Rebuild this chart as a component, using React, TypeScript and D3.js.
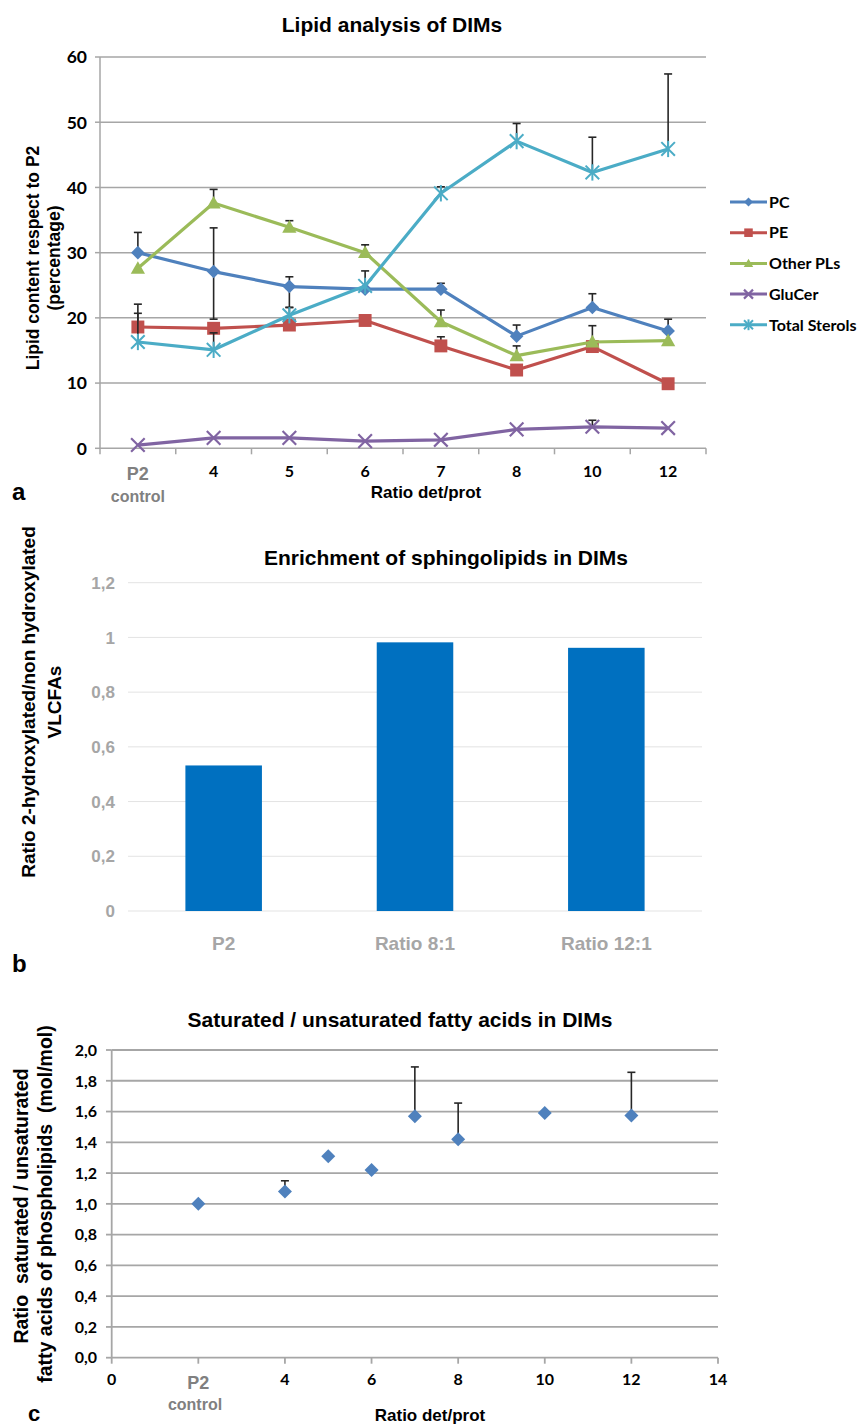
import React from "react";
import * as d3 from "d3";

// ---------- Panel a data ----------
const categoriesA = ["P2", "4", "5", "6", "7", "8", "10", "12"];
const seriesNames = ["PC", "PE", "Other PLs", "GluCer", "Total Sterols"];
const pcValues = [30.0, 27.1, 24.8, 24.4, 24.4, 17.2, 21.6, 18.0];
const peValues = [18.6, 18.4, 18.9, 19.6, 15.7, 12.0, 15.6, 9.9];
const otherPlValues = [27.6, 37.6, 33.9, 30.0, 19.4, 14.2, 16.3, 16.5];
const gluCerValues = [0.5, 1.6, 1.6, 1.1, 1.3, 2.9, 3.3, 3.1];
const sterolValues = [16.3, 15.1, 20.4, 24.9, 39.1, 47.1, 42.3, 45.9];
const pcErrUp = [3.1, 6.7, 1.5, 2.8, 0.9, 1.7, 2.1, 1.8];
const pcErrDown = [0, 7.3, 3.2, 0, 0, 0, 0, 0];
const peErrUp = [3.5, 0, 0, 0, 1.4, 0, 0, 0];
const otherPlErrUp = [0, 2.1, 1.0, 1.2, 1.8, 1.5, 2.5, 0];
const gluCerErrUp = [0, 0, 0, 0, 0, 0, 1.0, 0];
const sterolErrUp = [4.4, 2.6, 1.2, 0, 1.0, 2.7, 5.4, 11.5];
const yTicksA = [0, 10, 20, 30, 40, 50, 60];

// ---------- Panel b data ----------
const categoriesB = ["P2", "Ratio 8:1", "Ratio 12:1"];
const barValues = [0.532, 0.982, 0.962];
const yTicksB = [0, 0.2, 0.4, 0.6, 0.8, 1.0, 1.2];
const yTickLabelsB = ["0", "0,2", "0,4", "0,6", "0,8", "1", "1,2"];

// ---------- Panel c data ----------
const ratioX = [2, 4, 5, 6, 7, 8, 10, 12];
const satRatio = [1.0, 1.08, 1.31, 1.22, 1.57, 1.42, 1.59, 1.575];
const satErrUp = [0, 0.07, 0, 0, 0.32, 0.235, 0, 0.28];
const xTicksC = [0, 2, 4, 6, 8, 10, 12, 14];
const xTickLabelsC = ["0", "P2", "4", "6", "8", "10", "12", "14"];
const yTicksC = [0, 0.2, 0.4, 0.6, 0.8, 1.0, 1.2, 1.4, 1.6, 1.8, 2.0];
const yTickLabelsC = ["0,0", "0,2", "0,4", "0,6", "0,8", "1,0", "1,2", "1,4", "1,6", "1,8", "2,0"];

const ARIAL = "'Liberation Sans', Arial, sans-serif";
const CALIBRI = "Lato, 'Open Sans', sans-serif";
const GRID = "#A6A6A6";
const ERR = "#262626";

const colors = ["#4F81BD", "#C0504D", "#9BBB59", "#8064A2", "#4BACC6"];
const markers = ["diamond", "square", "triangle", "x", "star"];

function Marker({ type, cx, cy, s, color }: { type: string; cx: number; cy: number; s: number; color: string }) {
  if (type === "diamond") {
    return <polygon points={`${cx},${cy - s} ${cx + s},${cy} ${cx},${cy + s} ${cx - s},${cy}`} fill={color} />;
  }
  if (type === "square") {
    const h = s * 0.95;
    return <rect x={cx - h} y={cy - h} width={2 * h} height={2 * h} fill={color} />;
  }
  if (type === "triangle") {
    return <polygon points={`${cx},${cy - s * 1.05} ${cx + s * 1.05},${cy + s * 0.8} ${cx - s * 1.05},${cy + s * 0.8}`} fill={color} />;
  }
  if (type === "x") {
    return (
      <g stroke={color} strokeWidth={2.2}>
        <line x1={cx - s} y1={cy - s} x2={cx + s} y2={cy + s} />
        <line x1={cx - s} y1={cy + s} x2={cx + s} y2={cy - s} />
      </g>
    );
  }
  return (
    <g stroke={color} strokeWidth={2}>
      <line x1={cx - s} y1={cy - s} x2={cx + s} y2={cy + s} />
      <line x1={cx - s} y1={cy + s} x2={cx + s} y2={cy - s} />
      <line x1={cx} y1={cy - s * 1.2} x2={cx} y2={cy + s * 1.2} />
    </g>
  );
}

function ErrorBar({ x, y1, y2, cap }: { x: number; y1: number; y2: number; cap: boolean }) {
  return (
    <g stroke={ERR} strokeWidth={1.6}>
      <line x1={x} y1={y1} x2={x} y2={y2} />
      {cap && <line x1={x - 4} y1={y2} x2={x + 4} y2={y2} />}
    </g>
  );
}

function PanelA() {
  const x = d3.scaleBand<string>().domain(categoriesA).range([100, 706]);
  const y = d3.scaleLinear().domain([0, 60]).range([448.3, 57]);
  const cx = (c: string) => (x(c) as number) + x.bandwidth() / 2;
  const values = [pcValues, peValues, otherPlValues, gluCerValues, sterolValues];
  const errUp = [pcErrUp, peErrUp, otherPlErrUp, gluCerErrUp, sterolErrUp];
  const errDown = [pcErrDown, null, null, null, null];
  const line = d3
    .line<number>()
    .x((_, i) => cx(categoriesA[i]))
    .y((d) => y(d));
  const boundaries = categoriesA.map((c) => x(c) as number).concat([706]);
  return (
    <g>
      <text x={392} y={32} textAnchor="middle" fontFamily={ARIAL} fontWeight="bold" fontSize={21}>
        Lipid analysis of DIMs
      </text>
      {yTicksA.map((t) => (
        <g key={t}>
          {t > 0 && <line x1={100} x2={706} y1={y(t)} y2={y(t)} stroke={GRID} strokeWidth={1.5} />}
          <line x1={95} x2={100} y1={y(t)} y2={y(t)} stroke={GRID} strokeWidth={1.5} />
          <text x={87} y={y(t)} dy="0.36em" textAnchor="end" fontFamily={CALIBRI} fontWeight="bold" fontSize={17.5}>
            {t}
          </text>
        </g>
      ))}
      <line x1={100} x2={100} y1={y(60)} y2={y(0)} stroke={GRID} strokeWidth={1.5} />
      <line x1={100} x2={706} y1={y(0)} y2={y(0)} stroke={GRID} strokeWidth={1.5} />
      {boundaries.map((b, i) => (
        <line key={i} x1={b} x2={b} y1={y(0)} y2={y(0) + 6} stroke={GRID} strokeWidth={1.5} />
      ))}
      {categoriesA.map((c, i) => (
        <text
          key={c}
          x={cx(c)}
          y={i === 0 ? 480 : 477}
          textAnchor="middle"
          fontFamily={i === 0 ? ARIAL : CALIBRI}
          fontWeight="bold"
          fontSize={i === 0 ? 18 : 16}
          fill={i === 0 ? "#808080" : "#000"}
        >
          {c}
        </text>
      ))}
      <text x={cx("P2")} y={502} textAnchor="middle" fontFamily={ARIAL} fontWeight="bold" fontSize={16} fill="#808080">
        control
      </text>
      <text x={426} y={498} textAnchor="middle" fontFamily={ARIAL} fontWeight="bold" fontSize={17}>
        Ratio det/prot
      </text>
      <text x={12} y={500} fontFamily={ARIAL} fontWeight="bold" fontSize={24}>
        a
      </text>
      <g fontFamily={ARIAL} fontWeight="bold" fontSize={17.5} textAnchor="middle">
        <text transform={`translate(33,258) rotate(-90)`} dy="0.35em">
          Lipid content respect to P2
        </text>
        <text transform={`translate(54,258) rotate(-90)`} dy="0.35em">
          (percentage)
        </text>
      </g>
      {values.map((vals, si) => (
        <g key={si}>
          <path d={line(vals) || ""} fill="none" stroke={colors[si]} strokeWidth={3.2} strokeLinejoin="round" />
          {vals.map((v, i) => {
            const up = errUp[si][i];
            const down = errDown[si] ? (errDown[si] as number[])[i] : 0;
            return (
              <g key={i}>
                {up > 0 && <ErrorBar x={cx(categoriesA[i])} y1={y(v)} y2={y(v + up)} cap />}
                {down > 0 && <ErrorBar x={cx(categoriesA[i])} y1={y(v)} y2={y(v - down)} cap />}
              </g>
            );
          })}
          {vals.map((v, i) => (
            <Marker key={i} type={markers[si]} cx={cx(categoriesA[i])} cy={y(v)} s={6.8} color={colors[si]} />
          ))}
        </g>
      ))}
      {seriesNames.map((n, i) => {
        const ly = 202 + i * 30.7;
        return (
          <g key={n}>
            <line x1={730} x2={767} y1={ly} y2={ly} stroke={colors[i]} strokeWidth={3} />
            <Marker type={markers[i]} cx={748.5} cy={ly} s={4.5} color={colors[i]} />
            <text x={769} y={ly} dy="0.36em" fontFamily={CALIBRI} fontWeight="bold" fontSize={16}>
              {n}
            </text>
          </g>
        );
      })}
    </g>
  );
}

function PanelB() {
  const x = d3.scaleBand<string>().domain(categoriesB).range([128, 702]).paddingInner(0.6).paddingOuter(0.3);
  const y = d3.scaleLinear().domain([0, 1.2]).range([911, 582.7]);
  return (
    <g>
      <text x={446} y={565} textAnchor="middle" fontFamily={ARIAL} fontWeight="bold" fontSize={21}>
        Enrichment of sphingolipids in DIMs
      </text>
      {yTicksB.map((t, i) => (
        <g key={t}>
          <line x1={128} x2={702} y1={y(t)} y2={y(t)} stroke="#E3E3E3" strokeWidth={1} />
          <text x={115} y={y(t)} dy="0.36em" textAnchor="end" fontFamily={ARIAL} fontWeight="bold" fontSize={17} fill="#A6A6A6">
            {yTickLabelsB[i]}
          </text>
        </g>
      ))}
      {categoriesB.map((c, i) => (
        <g key={c}>
          <rect x={x(c)} y={y(barValues[i])} width={x.bandwidth()} height={y(0) - y(barValues[i])} fill="#0070C0" />
          <text
            x={(x(c) as number) + x.bandwidth() / 2}
            y={950}
            textAnchor="middle"
            fontFamily={ARIAL}
            fontWeight="bold"
            fontSize={19}
            fill="#A6A6A6"
          >
            {c}
          </text>
        </g>
      ))}
      <g fontFamily={ARIAL} fontWeight="bold" fontSize={19} textAnchor="middle">
        <text transform={`translate(28,702) rotate(-90)`} dy="0.35em">
          Ratio 2-hydroxylated/non hydroxylated
        </text>
        <text transform={`translate(54,702) rotate(-90)`} dy="0.35em">
          VLCFAs
        </text>
      </g>
      <text x={12} y={972} fontFamily={ARIAL} fontWeight="bold" fontSize={24}>
        b
      </text>
    </g>
  );
}

function PanelC() {
  const x = d3.scaleLinear().domain([0, 14]).range([111.7, 718]);
  const y = d3.scaleLinear().domain([0, 2]).range([1357.7, 1050]);
  return (
    <g>
      <text x={400} y={1027} textAnchor="middle" fontFamily={ARIAL} fontWeight="bold" fontSize={21}>
        Saturated / unsaturated fatty acids in DIMs
      </text>
      {yTicksC.map((t, i) => (
        <g key={t}>
          <line x1={111.7} x2={718} y1={y(t)} y2={y(t)} stroke={GRID} strokeWidth={1.8} />
          <line x1={106} x2={111.7} y1={y(t)} y2={y(t)} stroke={GRID} strokeWidth={1.8} />
          <text x={97} y={y(t)} dy="0.36em" textAnchor="end" fontFamily={CALIBRI} fontWeight="bold" fontSize={16}>
            {yTickLabelsC[i]}
          </text>
        </g>
      ))}
      <line x1={111.7} x2={111.7} y1={y(2)} y2={y(0)} stroke={GRID} strokeWidth={1.8} />
      {xTicksC.map((t, i) => (
        <g key={t}>
          <line x1={x(t)} x2={x(t)} y1={y(0)} y2={y(0) + 6} stroke={GRID} strokeWidth={1.8} />
          <text
            x={x(t)}
            y={i === 1 ? 1389 : 1385}
            textAnchor="middle"
            fontFamily={i === 1 ? ARIAL : CALIBRI}
            fontWeight="bold"
            fontSize={i === 1 ? 18 : 16}
            fill={i === 1 ? "#808080" : "#000"}
          >
            {xTickLabelsC[i]}
          </text>
        </g>
      ))}
      <text x={195} y={1410} textAnchor="middle" fontFamily={ARIAL} fontWeight="bold" fontSize={16} fill="#808080">
        control
      </text>
      <text x={430} y={1421} textAnchor="middle" fontFamily={ARIAL} fontWeight="bold" fontSize={17}>
        Ratio det/prot
      </text>
      <g fontFamily={ARIAL} fontWeight="bold" fontSize={19.5} textAnchor="middle">
        <text transform={`translate(21,1206) rotate(-90)`} dy="0.35em" style={{ whiteSpace: "pre" }}>
          {"Ratio  saturated / unsaturated"}
        </text>
        <text transform={`translate(45,1204) rotate(-90)`} dy="0.35em" style={{ whiteSpace: "pre" }}>
          {"fatty acids of phospholipids  (mol/mol)"}
        </text>
      </g>
      {ratioX.map((xv, i) => (
        <g key={i}>
          {satErrUp[i] > 0 && <ErrorBar x={x(xv)} y1={y(satRatio[i])} y2={y(satRatio[i] + satErrUp[i])} cap />}
          <Marker type="diamond" cx={x(xv)} cy={y(satRatio[i])} s={7} color="#4F81BD" />
        </g>
      ))}
      <text x={28} y={1421} fontFamily={ARIAL} fontWeight="bold" fontSize={22}>
        c
      </text>
    </g>
  );
}

export default function App() {
  return (
    <svg
      width={859}
      height={1426}
      viewBox="0 0 859 1426"
      style={{ position: "absolute", left: 0, top: 0, background: "#fff" }}
    >
      <rect width={859} height={1426} fill="#fff" />
      <PanelA />
      <PanelB />
      <PanelC />
    </svg>
  );
}
